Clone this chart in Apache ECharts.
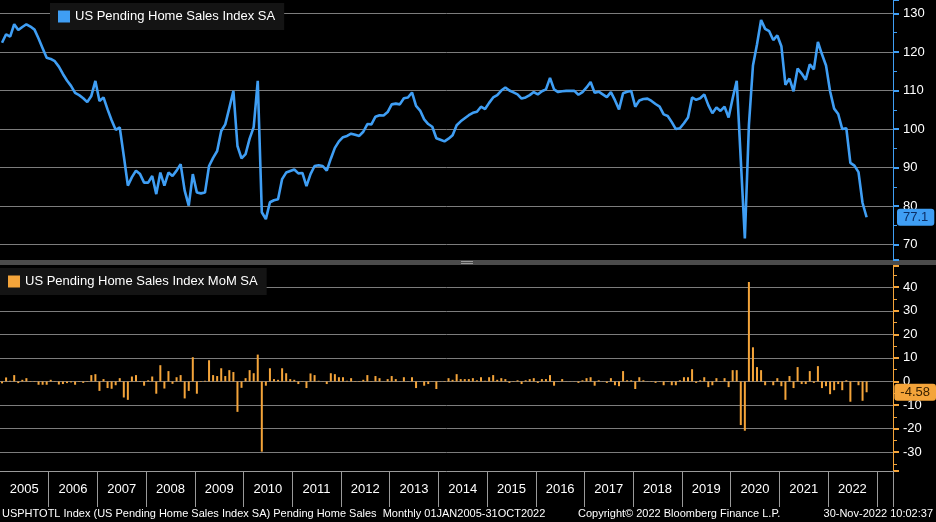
<!DOCTYPE html>
<html>
<head>
<meta charset="utf-8">
<script src="https://cdn.jsdelivr.net/npm/echarts@6.0.0/dist/echarts.min.js"></script>
<style>
html,body{margin:0;padding:0;background:#000;}
#chart{width:936px;height:522px;}
</style>
</head>
<body>
<div id="chart"></div>
<script>
// ---- data ----
const years = ['2005','2006','2007','2008','2009','2010','2011','2012','2013','2014','2015','2016','2017','2018','2019','2020','2021','2022','2023'];
const monthsShown = 220; // Jan 2005 .. Apr 2023 (axis span)
const lineName = 'US Pending Home Sales Index SA';
const barName = 'US Pending Home Sales Index MoM SA';

const indexSA = [
  // 2005
  122.4,124.6,124.0,127.2,125.7,126.5,127.2,126.6,125.8,123.5,121.0,118.5,
  // 2006
  118.2,117.6,116.2,114.3,112.6,111.2,109.4,108.8,108.0,107.0,108.6,112.5,
  // 2007
  107.3,108.2,105.1,102.3,99.8,100.4,93.0,85.3,87.5,89.2,88.3,86.1,
  // 2008
  86.1,87.8,83.1,88.7,85.3,88.7,87.8,89.2,90.9,84.0,80.1,88.3,
  // 2009
  83.5,83.3,83.5,90.4,92.5,94.3,99.5,101.2,105.5,109.9,95.6,92.4,
  // 2010
  93.5,97.5,100.5,112.5,78.4,76.6,81.0,81.5,81.8,87.0,88.7,89.1,
  // 2011
  89.5,88.5,88.6,85.2,88.3,90.4,90.6,90.4,89.2,92.3,95.1,96.8,
  // 2012
  97.9,98.2,98.8,98.5,98.2,99.3,101.3,101.2,103.2,103.6,103.5,104.4,
  // 2013
  106.4,106.6,106.4,108.0,108.2,109.5,106.0,104.8,102.5,101.3,100.6,97.6,
  // 2014
  97.2,96.8,97.5,98.4,101.0,102.0,102.8,103.6,104.2,104.5,105.8,105.2,
  // 2015
  106.8,108.2,108.8,110.0,110.8,110.0,109.5,109.0,107.9,108.2,108.8,109.6,
  // 2016
  109.0,109.8,110.3,113.3,110.3,109.6,109.8,109.9,109.9,109.9,108.9,109.6,
  // 2017
  110.8,112.2,109.4,109.7,109.0,108.3,109.6,107.5,105.1,109.3,109.7,109.9,
  // 2018
  105.8,107.4,107.8,107.9,107.3,106.5,105.8,103.8,103.4,101.8,100.0,100.2,
  // 2019
  101.5,103.0,108.2,107.6,108.0,109.0,106.2,104.1,105.6,104.7,105.8,103.0,
  // 2020
  108.0,112.5,92.0,71.6,101.0,116.5,122.0,128.3,126.0,125.4,123.1,124.3,
  // 2021
  121.5,111.5,113.1,109.8,115.7,114.4,112.8,116.8,115.5,122.6,119.4,116.5,
  // 2022 (Jan-Oct)
  109.8,105.3,103.9,100.0,100.2,91.2,90.5,88.8,80.8,77.1
];

const momSA = [
  // 2005
  -0.8,1.7,0.3,2.7,-0.7,0.7,1.4,0.2,-0.2,-1.4,-1.4,-1.4,
  // 2006
  0.7,0.2,-1.3,-1.1,-0.7,-0.4,-1.4,0.2,-0.6,0.2,2.7,3.1,
  // 2007
  -4.0,1.0,-2.8,-3.1,-1.6,1.4,-6.8,-7.8,2.1,2.7,-0.2,-1.8,
  // 2008
  0.5,2.1,-5.2,6.9,-3.0,4.4,-1.0,1.8,2.7,-7.2,-4.0,10.3,
  // 2009
  -5.2,-0.2,0.3,9.0,2.7,2.3,5.6,2.3,4.8,4.0,-12.9,-2.7,
  // 2010
  1.4,4.8,3.5,11.4,-29.8,-1.8,5.6,1.0,0.7,5.6,3.5,1.0,
  // 2011
  0.7,-1.1,0.2,-2.8,3.4,2.7,0.3,0.1,-1.1,3.5,3.1,1.8,
  // 2012
  1.8,0.3,1.4,-0.2,-0.2,0.7,2.7,-0.2,2.3,1.4,0.1,1.0,
  // 2013
  2.3,1.0,0.1,1.8,0.1,1.8,-2.8,0.1,-1.8,-1.1,0.1,-3.2,
  // 2014
  0.1,0.2,1.4,0.7,3.1,1.0,1.0,1.0,1.4,0.5,1.8,0.3,
  // 2015
  1.8,2.7,0.7,1.4,1.0,-0.6,-0.2,0.5,-1.1,0.5,1.0,1.4,
  // 2016
  -0.6,1.0,1.0,2.7,-1.8,0.1,1.0,0.1,0.1,0.1,-0.6,0.5,
  // 2017
  1.4,1.8,-1.8,0.5,0.1,-0.6,1.4,-1.6,-2.0,4.4,0.5,0.5,
  // 2018
  -3.2,1.8,0.5,0.1,-0.2,-0.6,-0.2,-1.6,-0.2,-1.6,-1.6,0.5,
  // 2019
  1.8,1.8,5.2,-0.6,0.5,1.8,-2.4,-1.6,1.4,-0.2,1.4,-2.4,
  // 2020
  4.8,4.8,-18.5,-20.9,42.2,14.5,6.1,4.8,-1.6,0.1,-1.6,1.4,
  // 2021
  -2.0,-7.8,2.3,-2.8,6.1,-1.1,-1.1,4.4,-0.6,6.5,-2.8,-2.0,
  // 2022 (Jan-Oct)
  -5.4,-3.7,-1.1,-3.7,0.5,-8.6,-0.2,-1.6,-8.2,-4.58
];

const footerLeft = 'USPHTOTL Index (US Pending Home Sales Index SA) Pending Home Sales  Monthly 01JAN2005-31OCT2022';
const footerMid = 'Copyright\u00A9 2022 Bloomberg Finance L.P.';
const footerRight = '30-Nov-2022 10:02:37';

// ---- build categories ----
const months = [];
for (let i = 0; i < monthsShown; i++) {
  const y = years[Math.floor(i / 12)];
  const m = String(i % 12 + 1).padStart(2, '0');
  months.push(y + '-' + m);
}
const lastYearLabel = '2022';

const BLUE = '#3f9ef4';
const ORANGE = '#f4a43a';
const GRID = '#7c7c7c';
const FONT = '"Liberation Sans",Arial,sans-serif';

const chart = echarts.init(document.getElementById('chart'), null, {renderer: 'canvas'});

const lastLine = indexSA[indexSA.length - 1];
const lastBar = momSA[momSA.length - 1];

const option = {
  backgroundColor: '#000',
  animation: false,
  textStyle: {fontFamily: FONT},
  legend: [
    {
      data: [lineName], left: 50, top: 3,
      backgroundColor: '#141414', padding: [7, 9, 7, 8],
      icon: 'rect', itemWidth: 12, itemHeight: 12, itemGap: 6,
      textStyle: {color: '#ffffff', fontSize: 13, fontFamily: FONT},
      selectedMode: false
    },
    {
      data: [barName], left: 0, top: 268,
      backgroundColor: '#141414', padding: [7, 9, 7, 8],
      icon: 'rect', itemWidth: 12, itemHeight: 12, itemGap: 6,
      textStyle: {color: '#ffffff', fontSize: 13, fontFamily: FONT},
      selectedMode: false
    }
  ],
  grid: [
    {left: -1, top: 0, width: 894, height: 260},
    {left: -1, top: 266, width: 894, height: 205}
  ],
  xAxis: [
    {
      type: 'category', gridIndex: 0, data: months, boundaryGap: true,
      axisLine: {show: false}, axisTick: {show: false}, axisLabel: {show: false},
      splitLine: {show: false}
    },
    {
      type: 'category', gridIndex: 1, data: months, boundaryGap: true, position: 'bottom',
      axisLine: {show: true, onZero: false, lineStyle: {color: '#9a9a9a', width: 1}},
      axisTick: {
        show: true, length: 36, lineStyle: {color: '#9a9a9a', width: 1},
        interval: function (idx) { return idx % 12 === 0 && idx > 0 && idx <= 216; }
      },
      axisLabel: {
        color: '#ffffff', fontSize: 13, fontFamily: FONT, margin: 12,
        padding: [0, 0, 0, 4],
        interval: function (idx) { return idx % 12 === 5 && months[idx].slice(0, 4) <= lastYearLabel; },
        formatter: function (v) { return v.slice(0, 4); }
      },
      splitLine: {show: false}
    }
  ],
  yAxis: [
    {
      type: 'value', gridIndex: 0, position: 'right', min: 66, max: 133.5,
      minInterval: 10, maxInterval: 10,
      axisLine: {show: true, lineStyle: {color: BLUE, width: 1}},
      axisTick: {show: true, length: 6, lineStyle: {color: BLUE, width: 2}},
      minorTick: {show: true, splitNumber: 2, length: 4, lineStyle: {color: BLUE, width: 1}},
      axisLabel: {color: '#ffffff', fontSize: 13, fontFamily: FONT, margin: 10, showMinLabel: false, showMaxLabel: false},
      splitLine: {show: true, showMinLine: false, showMaxLine: false, lineStyle: {color: GRID, width: 1}},
      axisPointer: {
        show: true, type: 'line', value: lastLine, status: 'show', snap: false, triggerTooltip: false,
        lineStyle: {opacity: 0},
        label: {show: true, precision: 1, backgroundColor: BLUE, color: '#0c2f66', fontSize: 13, fontFamily: FONT, padding: [2, 6, 2, 6], margin: 4}
      }
    },
    {
      type: 'value', gridIndex: 1, position: 'right', min: -38, max: 49,
      minInterval: 10, maxInterval: 10,
      axisLine: {show: true, lineStyle: {color: ORANGE, width: 1}},
      axisTick: {show: true, length: 6, lineStyle: {color: ORANGE, width: 2}},
      minorTick: {show: true, splitNumber: 2, length: 4, lineStyle: {color: ORANGE, width: 1}},
      axisLabel: {color: '#ffffff', fontSize: 13, fontFamily: FONT, margin: 10, showMinLabel: false, showMaxLabel: false},
      splitLine: {show: true, showMinLine: false, showMaxLine: false, lineStyle: {color: GRID, width: 1}},
      axisPointer: {
        show: true, type: 'line', value: lastBar, status: 'show', snap: false, triggerTooltip: false,
        lineStyle: {opacity: 0},
        label: {show: true, precision: 2, backgroundColor: ORANGE, color: '#3a2200', fontSize: 13, fontFamily: FONT, padding: [2, 6, 2, 6], margin: 4}
      }
    }
  ],
  series: [
    {
      name: lineName, type: 'line', xAxisIndex: 0, yAxisIndex: 0,
      data: indexSA, showSymbol: false, symbol: 'none',
      lineStyle: {color: BLUE, width: 2.6}, itemStyle: {color: BLUE}
    },
    {
      name: barName, type: 'bar', xAxisIndex: 1, yAxisIndex: 1,
      data: momSA, barWidth: 2, clip: false,
      itemStyle: {color: ORANGE}
    }
  ],
  graphic: [
    {type: 'rect', left: 0, top: 260, shape: {width: 936, height: 5}, style: {fill: '#4b4b4b'}, silent: true},
    {type: 'rect', left: 461, top: 261, shape: {width: 12, height: 1}, style: {fill: '#9a9a9a'}, silent: true},
    {type: 'rect', left: 461, top: 263, shape: {width: 12, height: 1}, style: {fill: '#9a9a9a'}, silent: true},
    {type: 'text', left: 2, top: 508, style: {text: footerLeft, fill: '#ffffff', fontSize: 11, fontFamily: FONT}},
    {type: 'text', left: 578, top: 508, style: {text: footerMid, fill: '#ffffff', fontSize: 11, fontFamily: FONT}},
    {type: 'text', right: 3, top: 508, style: {text: footerRight, fill: '#ffffff', fontSize: 11, fontFamily: FONT}}
  ]
};
chart.setOption(option);
</script>
</body>
</html>
